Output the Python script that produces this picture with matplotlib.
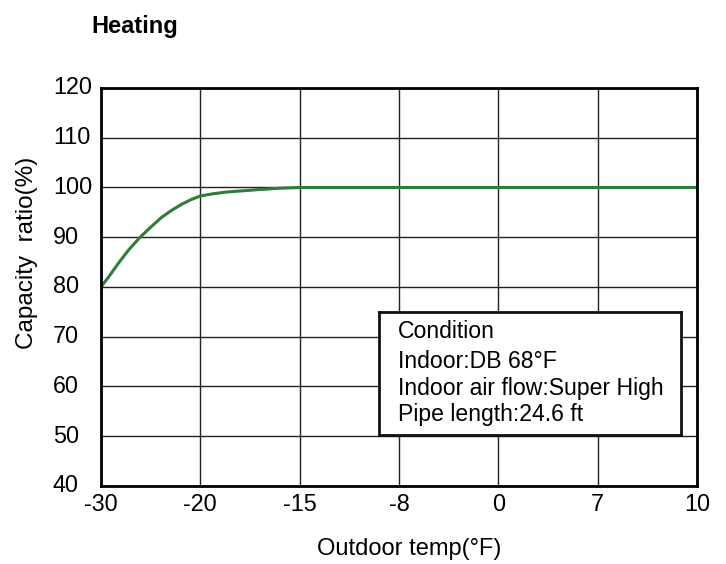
import numpy as np
import matplotlib
matplotlib.use("Agg")
import matplotlib.pyplot as plt

plt.rcParams['font.family'] = ['Liberation Sans', 'DejaVu Sans']

# Data
tick_temps = [-30, -20, -15, -8, 0, 7, 10]
tick_labels = ["-30", "-20", "-15", "-8", "0", "7", "10"]
curve_temp = [-30, -29.24, -28.24, -27.24, -26.07, -24.9, -23.9, -22.9,
              -21.9, -20.9, -20, -19.35, -18.65, -17.0, -16.0, -15,
              -8, 0, 7, 10]
curve_ratio = [80, 82.0, 84.8, 87.4, 90.0, 92.2, 94.0, 95.4,
               96.6, 97.6, 98.3, 98.75, 99.1, 99.6, 99.85, 100,
               100, 100, 100, 100]
y_ticks = [40, 50, 60, 70, 80, 90, 100, 110, 120]
condition_lines = ["Condition", "Indoor:DB 68°F", "Indoor air flow:Super High",
                   "Pipe length:24.6 ft"]

fig = plt.figure(figsize=(7.26, 5.64), dpi=100)
W, H = 726, 564
ax = fig.add_axes([101 / W, 1 - 486 / H, (697 - 101) / W, (486 - 88) / H])

# categorical-like x positions: equal spacing between tick temperatures
idx = np.arange(len(tick_temps))
xpos = np.interp(curve_temp, tick_temps, idx)
ax.plot(xpos, curve_ratio, color="#2e7d3a", lw=2.2, zorder=3,
        solid_capstyle="butt", solid_joinstyle="round")

ax.set_xlim(0, len(tick_temps) - 1)
ax.set_ylim(40, 120)
ax.set_xticks(idx)
ax.set_xticklabels(tick_labels)
ax.set_yticks(y_ticks)
ax.tick_params(length=0, labelsize=16.8)
ax.tick_params(axis="x", pad=5)
ax.tick_params(axis="y", pad=(101 - 53) * 72 / 100)
for lab in ax.get_yticklabels():
    lab.set_horizontalalignment("left")
    lab.set_verticalalignment("center")
ax.grid(True, color="#222222", lw=1.0)
for s in ax.spines.values():
    s.set_linewidth(2)
    s.set_color("black")
    s.set_zorder(4)

# condition box
bx0, bx1, by0, by1 = 379, 681, 312, 435
box_ax = fig.add_axes([bx0 / W, 1 - by1 / H, (bx1 - bx0) / W, (by1 - by0) / H])
box_ax.set_xticks([]); box_ax.set_yticks([])
box_ax.set_facecolor("white")
for s in box_ax.spines.values():
    s.set_linewidth(2)
    s.set_color("#111111")
line_y = [332, 361, 388, 415]
for t, yy in zip(condition_lines, line_y):
    fig.text(398 / W, 1 - yy / H, t, fontsize=16.6, va="center", ha="left")

fig.text(91 / W, 1 - 27 / H, "Heating", fontsize=17, fontweight="bold",
         va="center", ha="left")
fig.text(409 / W, 1 - 549 / H, "Outdoor temp(°F)", fontsize=17,
         va="center", ha="center")
fig.text(27 / W, 1 - 253 / H, "Capacity  ratio(%)", fontsize=17.5,
         va="center", ha="center", rotation=90)

fig.savefig("out.png", dpi=100)
